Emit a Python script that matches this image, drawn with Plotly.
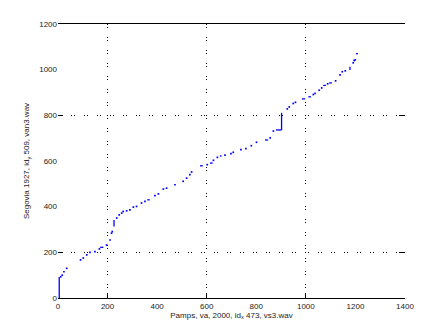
import plotly.graph_objects as go

# Sampled path points (x = frame in reference recording, y = frame in query)
dots_x = [11, 17, 24, 35,
          91, 102, 116, 129, 149, 167, 196, 210, 216, 219,
          237, 247, 257, 263, 277, 290, 304, 317, 337, 351, 391, 405, 425, 438, 472, 505, 519, 532, 539,
          602, 627, 643, 674, 698, 707, 738, 758, 780, 801, 856, 869,
          925, 933, 949, 958, 1030, 1037, 1054, 1064, 1088, 1120,
          1138, 1147, 1159, 1191, 1195, 1199]
dots_y = [93, 100, 115, 130,
          167, 175, 189, 200, 203, 215, 232, 254, 284, 291,
          350, 364, 372, 379, 382, 386, 398, 401, 416, 423, 448, 456, 477, 481, 496, 511, 525, 540, 552,
          584, 603, 616, 626, 632, 638, 650, 654, 667, 682, 701, 731,
          828, 837, 852, 857, 891, 896, 910, 920, 938, 951,
          977, 991, 995, 1030, 1040, 1043]

# Continuous runs of the path (start/end pairs)
seg_x0 = [5, 226, 902, 1178, 170, 360, 573, 613, 653, 835, 879, 984, 1010, 1070, 1094, 1202]
seg_y0 = [0, 313, 736, 998, 222, 430, 579, 591, 622, 692, 736, 872, 881, 931, 942, 1070]
seg_x1 = [5, 226, 902, 1178, 183, 370, 584, 624, 660, 848, 902, 997, 1021, 1081, 1105, 1210]
seg_y1 = [92, 342, 811, 1013, 222, 430, 579, 591, 622, 692, 736, 872, 881, 931, 942, 1070]

x_ticks = [0, 200, 400, 600, 800, 1000, 1200, 1400]
y_ticks = [0, 200, 400, 600, 800, 1000, 1200]
x_grid = [200, 600, 1000]
y_grid = [200, 800]

x_title = "Pamps, va, 2000, id<sub>x</sub> 473, vs3.wav"
y_title = "Segovia 1927, id<sub>y</sub> 509, van3.wav"

blue = "#0000ff"
font = dict(family="Liberation Sans, Arial, sans-serif", size=8, color="#222222")

lx, ly = [], []
for a, b, c, d in zip(seg_x0, seg_y0, seg_x1, seg_y1):
    lx += [a, c, None]
    ly += [b, d, None]

fig = go.Figure()
fig.add_trace(go.Scatter(x=[None], y=[None], xaxis="x2", yaxis="y2",
                         mode="markers", showlegend=False, hoverinfo="skip"))
fig.add_trace(go.Scatter(x=lx, y=ly, mode="lines",
                         line=dict(color=blue, width=1.3), showlegend=False))
fig.add_trace(go.Scatter(x=dots_x, y=dots_y, mode="markers",
                         marker=dict(color=blue, size=1.7, symbol="square", line=dict(width=0)),
                         showlegend=False))

grid_dash = "1px,2px,1px,9px"
fig.update_layout(
    width=447, height=335,
    margin=dict(l=58, r=42, t=24, b=37),
    paper_bgcolor="white", plot_bgcolor="white",
    font=font,
    xaxis=dict(range=[0, 1400], tickvals=x_ticks, ticktext=[str(v) for v in x_ticks],
               ticks="", showgrid=False, zeroline=False,
               showline=True, linecolor="black", linewidth=1, mirror=True,
               title=dict(text=x_title, font=font, standoff=2), tickfont=font),
    yaxis=dict(range=[0, 1200], tickvals=y_ticks, ticktext=[str(v) for v in y_ticks],
               ticks="", showgrid=False, zeroline=False, showline=False,
               title=dict(text=y_title, font=font, standoff=8), tickfont=font),
    xaxis2=dict(range=[0, 1400], overlaying="x", anchor="y2", tickvals=x_grid,
                showticklabels=False, ticks="inside", ticklen=5, tickcolor="black",
                showgrid=True, gridcolor="black", gridwidth=1, griddash=grid_dash,
                zeroline=False, showline=False),
    yaxis2=dict(range=[0, 1200], overlaying="y", anchor="x2", tickvals=y_grid,
                showticklabels=False, ticks="inside", ticklen=5, tickcolor="black",
                showgrid=True, gridcolor="black", gridwidth=1, griddash=grid_dash,
                zeroline=False, showline=False, mirror="ticks"),
)

fig.write_html("out.html")
